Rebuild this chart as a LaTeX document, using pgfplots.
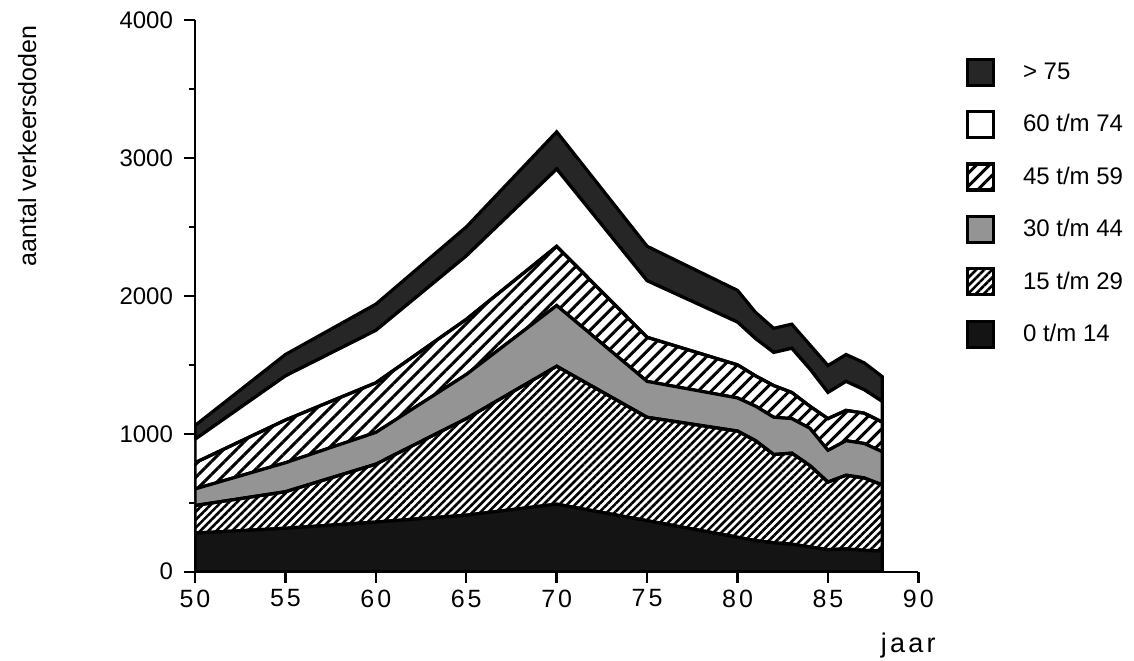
\documentclass[border=0pt]{standalone}
\usepackage{fontspec}
\setmainfont{Liberation Sans}
\newfontfamily\spaced[LetterSpace=12]{Liberation Sans}
\usepackage{pgfplots}
\usepackage{pgfplotstable}
\pgfplotsset{compat=1.18}
\usetikzlibrary{patterns.meta}

% verkeersdoden per leeftijdsgroep
\pgfplotstableread{
jaar a b c d e f
50 280 200 120 190 170 100
55 315 265 210 310 320 155
60 360 420 230 360 380 190
65 410 700 320 400 460 210
70 490 1000 440 430 560 270
75 370 750 260 320 410 250
80 250 770 240 240 310 230
81 225 725 250 220 270 190
82 210 640 270 230 240 175
83 200 660 250 190 320 175
84 180 590 270 160 270 175
85 160 490 230 230 190 195
86 165 535 250 220 210 195
87 155 525 250 220 170 195
88 150 480 240 215 150 180
}\doden

\begin{document}
\begin{tikzpicture}
\useasboundingbox (-97.5pt,-44.15pt) rectangle (469.5pt,285.85pt);
\begin{axis}[
	at={(0,0)}, anchor=south west,
	scale only axis, width=361.7pt, height=275.8pt,
	xmin=50, xmax=90, ymin=0, ymax=4000,
	axis lines=left, axis line style={-, line width=1.2pt},
	tick align=outside,
	xtick={50,55,...,90}, ytick={0,1000,...,4000},
	minor ytick={500,1500,2500,3500},
	major tick length=5.5pt, minor tick length=3pt,
	tick style={black, line width=1.2pt},
	/pgf/number format/assume math mode=true,
	/pgf/number format/1000 sep={},
	font=\fontsize{12}{14}\selectfont,
	yticklabel={\fontsize{12}{14}\selectfont\pgfmathprintnumber{\tick}},
	yticklabel style={xshift=-2pt},
	xticklabel style={font=\fontsize{12.5}{14}\selectfont\spaced},
	ylabel={aantal verkeersdoden},
	ylabel style={at={(rel axis cs:-0.232,0.772)}, anchor=center, font=\fontsize{12.5}{14}\selectfont},
	xlabel={jaar},
	xlabel style={at={(rel axis cs:0.986,-0.1456)}, anchor=base, font=\fontsize{13.5}{15}\selectfont\spaced},
	stack plots=y,
	reverse legend,
	legend image code/.code={\draw[#1] (0pt,-6.5pt) rectangle (13pt,6.5pt);},
	legend cell align=left,
	legend style={at={(rel axis cs:1.0650,0.9326)}, anchor=north west, draw=none, fill=none,
		inner sep=0pt, nodes={inner sep=2pt}, row sep=11.6pt,
		/tikz/every odd column/.append style={column sep=12pt},
		font=\fontsize{12}{14}\selectfont},
]
	\addplot[draw=black, line width=1.6pt, fill=black!92] table[x=jaar, y=a] {\doden} \closedcycle;
	\addlegendentry{0 t/m 14}
	\addplot[draw=black, line width=1.6pt, pattern={Lines[angle=45, distance=2.8pt, line width=1.3pt]}] table[x=jaar, y=b] {\doden} \closedcycle;
	\addlegendentry{15 t/m 29}
	\addplot[draw=black, line width=1.6pt, fill=black!42] table[x=jaar, y=c] {\doden} \closedcycle;
	\addlegendentry{30 t/m 44}
	\addplot[draw=black, line width=1.6pt, pattern={Lines[angle=45, distance=4.6pt, line width=1.5pt]}] table[x=jaar, y=d] {\doden} \closedcycle;
	\addlegendentry{45 t/m 59}
	\addplot[draw=black, line width=1.6pt, fill=white] table[x=jaar, y=e] {\doden} \closedcycle;
	\addlegendentry{60 t/m 74}
	\addplot[draw=black, line width=1.6pt, fill=black!85] table[x=jaar, y=f] {\doden} \closedcycle;
	\addlegendentry{> 75}
\end{axis}
\end{tikzpicture}
\end{document}
